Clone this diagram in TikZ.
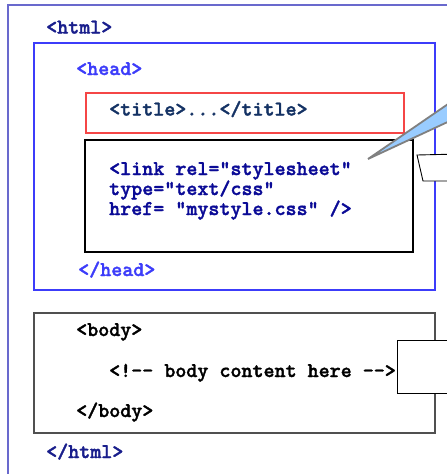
\documentclass[tikz,border=0pt]{standalone}
\usepackage{fontspec}
\newfontfamily\codefont[FakeBold=1.6]{lmmonolt10-bold.otf}
\usepackage{tikz}

\definecolor{outerblue}{RGB}{105,105,205}
\definecolor{htmlnavy}{RGB}{25,30,140}
\definecolor{headblue}{RGB}{60,60,250}
\definecolor{titlered}{RGB}{245,70,70}
\definecolor{titlenavy}{RGB}{20,50,100}
\definecolor{linknavy}{RGB}{10,10,150}
\definecolor{bodygray}{RGB}{80,80,80}
\definecolor{calloutfill}{RGB}{153,204,255}
\definecolor{calloutedge}{RGB}{128,128,128}

\tikzset{
  tag/.style={anchor=base west, inner sep=0pt, font=\fontsize{21}{24}\selectfont\codefont},
}

\begin{document}
\begin{tikzpicture}[x=1pt,y=1pt,yscale=-1,xscale=1]
\useasboundingbox (0,0) rectangle (447,474);
\fill[white] (0,0) rectangle (447,474);
\clip (0,0) rectangle (447,474);

%Shape: Rectangle [html]
\draw[outerblue, line width=1.6pt] (8,5) rectangle (470,490);
%Shape: Rectangle [head]
\draw[headblue, line width=1.4pt] (34,43) rectangle (435,290);
%Shape: Rectangle [title]
\draw[titlered, line width=1.4pt] (86,93) rectangle (404,133);
%Shape: Rectangle [link]
\draw[black, line width=2.8pt] (85,140) rectangle (413,252);
%Shape: Rectangle [body]
\draw[bodygray, line width=1.6pt] (34,313) rectangle (435,433);

% Text Node
\node[tag, text=htmlnavy] (htmlopen) at (46,33.5) {<html>};
% Text Node
\node[tag, text=headblue] (headopen) at (76,75) {<head>};
% Text Node
\node[tag, text=titlenavy] (title) at (109,115.5) {<title>...</title>};
% Text Node
\node[tag, text=linknavy] (linka) at (109,175) {<link rel="stylesheet"};
% Text Node
\node[tag, text=linknavy] (linkb) at (109,195) {type="text/css"};
% Text Node
\node[tag, text=linknavy] (linkc) at (109,215) {href= "mystyle.css" />};
% Text Node
\node[tag, text=headblue] (headclose) at (78,276) {</head>};
% Text Node
\node[tag, text=black] (bodyopen) at (76,336) {<body>};
% Text Node
\node[tag, text=black] (comment) at (109,377) {<!-{}- body content here -{}->};
% Text Node
\node[tag, text=black] (bodyclose) at (76,417) {</body>};
% Text Node
\node[tag, text=htmlnavy] (htmlclose) at (46,458) {</html>};

%Shape: Callout note
\draw[black, fill=white, line width=0.9pt] (417,155) -- (460,154) -- (460,181) -- (423,181) -- cycle;
%Shape: Callout tail
\coordinate (tip) at (368,159);
\draw[calloutedge, fill=calloutfill, line width=1.8pt, line join=miter] (tip) -- (467,91) -- (467,113) -- cycle;
%Shape: Comment note
\draw[black, fill=white, line width=0.9pt] (397,340) rectangle (460,393);

\end{tikzpicture}
\end{document}
